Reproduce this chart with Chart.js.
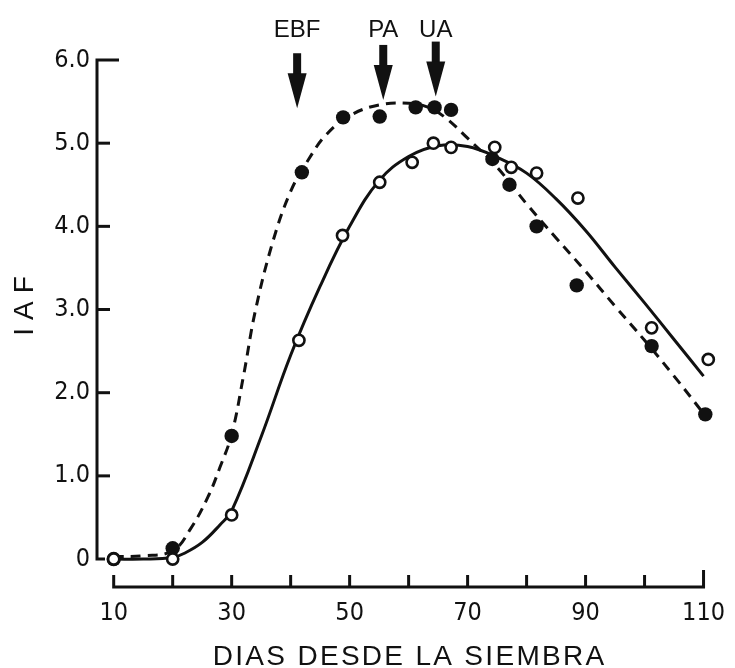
<!DOCTYPE html>
<html lang="es">
<head>
<meta charset="utf-8">
<title>IAF - Dias desde la siembra</title>
<script src="https://cdn.jsdelivr.net/npm/chart.js@4.4.1/dist/chart.umd.min.js"></script>
<style>
    html, body { margin: 0; padding: 0; background: #ffffff; }
    #chart-container { width: 735px; height: 668px; }
</style>
</head>
<body>
<div id="chart-container">
    <canvas id="iaf-chart" width="735" height="668"></canvas>
</div>
<script>
// Puntos medidos: círculos llenos (línea de trazos)
const filledDays = [10, 20, 30, 41.9, 48.9, 55.1, 61.2, 64.4, 67.2, 74.2, 77.1, 81.7, 88.5, 101.2, 110.3];
const filledIAF = [0, 0.13, 1.48, 4.65, 5.31, 5.32, 5.43, 5.43, 5.40, 4.81, 4.50, 4.00, 3.29, 2.56, 1.74];

// Puntos medidos: círculos abiertos (línea continua)
const openDays = [10, 20, 30, 41.4, 48.8, 55.1, 60.6, 64.2, 67.2, 74.6, 77.4, 81.7, 88.7, 101.2, 110.8];
const openIAF = [0, 0, 0.53, 2.63, 3.89, 4.53, 4.77, 5.00, 4.95, 4.95, 4.71, 4.64, 4.34, 2.78, 2.40];

// Curva ajustada de trazos
const dashedCurveDays = [10, 15, 20, 23, 26, 28, 30, 32, 34, 37, 40, 43, 46, 50, 55, 60, 63, 66, 70, 75, 80, 85, 90, 95, 100, 105, 110];
const dashedCurveIAF = [0.03, 0.04, 0.1, 0.36, 0.75, 1.1, 1.5, 2.2, 2.98, 3.82, 4.42, 4.8, 5.1, 5.33, 5.46, 5.48, 5.44, 5.32, 5.06, 4.71, 4.27, 3.86, 3.46, 3.04, 2.63, 2.2, 1.75];

// Curva ajustada continua
const solidCurveDays = [10, 15, 20, 22, 25, 28, 30, 35, 40, 45, 50, 55, 60, 65, 70, 75, 80, 85, 90, 95, 100, 105, 110];
const solidCurveIAF = [0, 0, 0.02, 0.07, 0.2, 0.41, 0.58, 1.47, 2.45, 3.28, 4.0, 4.55, 4.84, 4.97, 4.96, 4.83, 4.64, 4.33, 3.95, 3.51, 3.08, 2.64, 2.2];

// Ejes y etiquetas
const xTickValues = [10, 20, 30, 40, 50, 60, 70, 80, 90, 100, 110];
const xTickLabels = ['10', '', '30', '', '50', '', '70', '', '90', '', '110'];
const yTickValues = [0, 1, 2, 3, 4, 5, 6];
const yTickLabels = ['0', '1.0', '2.0', '3.0', '4.0', '5.0', '6.0'];
const xTitle = 'DIAS DESDE LA SIEMBRA';
const yTitle = 'IAF';

// Flechas de fenología: día y valor de IAF donde apunta la punta
const arrowLabels = ['EBF', 'PA', 'UA'];
const arrowDays = [41.1, 55.7, 64.6];
const arrowTipIAF = [5.42, 5.52, 5.56];

const INK = '#111111';
const TICK_FONT = "'DejaVu Sans Condensed', 'DejaVu Sans', sans-serif";
const TEXT_FONT = "'Liberation Sans', Arial, sans-serif";

// Convierte dos listas en puntos {x, y}
function toPoints(xs, ys) {
    return xs.map((x, i) => ({ x: x, y: ys[i] }));
}

// Dibuja ejes en forma de escuadra, flechas y títulos
const drawingPlugin = {
    id: 'drawingPlugin',
    afterDraw(chart) {
        const ctx = chart.ctx;
        const xs = chart.scales.x;
        const ys = chart.scales.y;
        const left = chart.chartArea.left + 1;
        const bottom = chart.chartArea.bottom - 1;

        ctx.save();
        ctx.strokeStyle = INK;
        ctx.fillStyle = INK;
        ctx.lineWidth = 3;
        ctx.lineJoin = 'miter';

        // Eje Y
        const yTop = ys.getPixelForValue(6);
        const yZero = ys.getPixelForValue(0);
        ctx.beginPath();
        ctx.moveTo(left + 22, yTop);
        ctx.lineTo(left, yTop);
        ctx.lineTo(left, yZero);
        ctx.lineTo(left + 8, yZero);
        ctx.stroke();
        yTickValues.slice(1, -1).forEach(v => {
            const py = ys.getPixelForValue(v);
            ctx.beginPath();
            ctx.moveTo(left, py);
            ctx.lineTo(left + 13, py);
            ctx.stroke();
        });

        // Eje X
        const xStart = xs.getPixelForValue(xTickValues[0]);
        const xEnd = xs.getPixelForValue(xTickValues[xTickValues.length - 1]);
        ctx.beginPath();
        ctx.moveTo(xStart, bottom - 12);
        ctx.lineTo(xStart, bottom);
        ctx.lineTo(xEnd, bottom);
        ctx.lineTo(xEnd, bottom - 17);
        ctx.stroke();
        xTickValues.slice(1, -1).forEach(v => {
            const px = xs.getPixelForValue(v);
            ctx.beginPath();
            ctx.moveTo(px, bottom);
            ctx.lineTo(px, bottom - 12);
            ctx.stroke();
        });

        // Flechas y sus etiquetas
        ctx.font = '24px ' + TEXT_FONT;
        ctx.textAlign = 'center';
        ctx.textBaseline = 'alphabetic';
        arrowDays.forEach((day, i) => {
            const px = xs.getPixelForValue(day);
            const tip = ys.getPixelForValue(arrowTipIAF[i]);
            const top = tip - 55;
            const headTop = tip - 35;
            ctx.fillRect(px - 4, top, 8, headTop - top + 1);
            ctx.beginPath();
            ctx.moveTo(px - 9.5, headTop);
            ctx.lineTo(px + 9.5, headTop);
            ctx.lineTo(px, tip);
            ctx.closePath();
            ctx.fill();
            ctx.fillText(arrowLabels[i], px, 37);
        });

        // Título del eje X, con letras espaciadas
        ctx.font = '28px ' + TEXT_FONT;
        ctx.letterSpacing = '2.3px';
        ctx.fillText(xTitle, (xStart + xEnd) / 2 + 1, chart.height - 3);

        // Título del eje Y, vertical
        ctx.letterSpacing = '8px';
        ctx.translate(33, 306);
        ctx.rotate(-Math.PI / 2);
        ctx.fillText(yTitle, 4, 0);
        ctx.restore();
    }
};

// Crea el gráfico
function createChart() {
    const ctx = document.getElementById('iaf-chart').getContext('2d');
    return new Chart(ctx, {
        type: 'scatter',
        data: {
            datasets: [{
                label: 'Abiertos',
                data: toPoints(openDays, openIAF),
                pointRadius: 5.6,
                pointBorderWidth: 2.6,
                pointBackgroundColor: '#ffffff',
                pointBorderColor: INK,
                showLine: false,
                clip: false
            }, {
                label: 'Llenos',
                data: toPoints(filledDays, filledIAF),
                pointRadius: 7.2,
                pointBorderWidth: 0,
                pointBackgroundColor: INK,
                pointBorderColor: INK,
                showLine: false,
                clip: false
            }, {
                label: 'Curva continua',
                data: toPoints(solidCurveDays, solidCurveIAF),
                showLine: true,
                pointRadius: 0,
                borderColor: INK,
                borderWidth: 3,
                tension: 0.4,
                clip: false
            }, {
                label: 'Curva de trazos',
                data: toPoints(dashedCurveDays, dashedCurveIAF),
                showLine: true,
                pointRadius: 0,
                borderColor: INK,
                borderWidth: 3,
                borderDash: [10, 7],
                tension: 0.4,
                clip: false
            }]
        },
        options: {
            responsive: false,
            devicePixelRatio: 1,
            animation: false,
            layout: { padding: { top: 60, right: 20, left: 0, bottom: 0 } },
            plugins: {
                legend: { display: false },
                tooltip: { enabled: false }
            },
            scales: {
                x: {
                    type: 'linear',
                    min: 7,
                    max: 110,
                    grid: { display: false, drawTicks: false },
                    border: { display: false },
                    afterBuildTicks: scale => {
                        scale.ticks = xTickValues.map(v => ({ value: v }));
                    },
                    afterFit: scale => { scale.height = 80; },
                    ticks: {
                        autoSkip: false,
                        maxRotation: 0,
                        padding: 10,
                        color: INK,
                        font: { family: TICK_FONT, size: 25 },
                        callback: (value, index) => xTickLabels[index]
                    }
                },
                y: {
                    type: 'linear',
                    min: -0.348,
                    max: 6,
                    grid: { display: false, drawTicks: false },
                    border: { display: false },
                    afterBuildTicks: scale => {
                        scale.ticks = yTickValues.map(v => ({ value: v }));
                    },
                    afterFit: scale => { scale.width = 96; },
                    ticks: {
                        padding: 6,
                        color: INK,
                        font: { family: TICK_FONT, size: 25 },
                        callback: (value, index) => yTickLabels[index]
                    }
                }
            }
        },
        plugins: [drawingPlugin]
    });
}

document.addEventListener('DOMContentLoaded', () => {
    createChart();
});
</script>
</body>
</html>
